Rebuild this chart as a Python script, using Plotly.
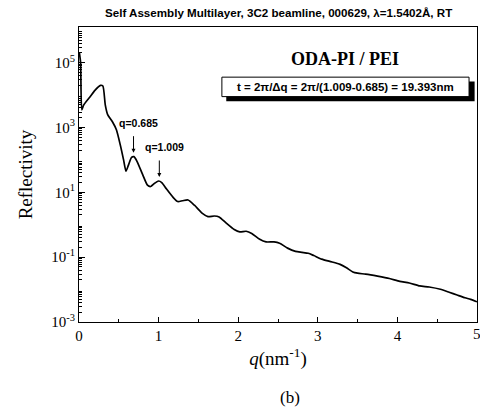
import math
import plotly.graph_objects as go

# ---- data ----
q = [0.005, 0.02, 0.035, 0.06, 0.14, 0.20, 0.27, 0.30, 0.33, 0.36, 0.42, 0.47, 0.52, 0.56,
     0.59, 0.62, 0.66, 0.69, 0.73, 0.80, 0.86, 0.90, 0.95, 1.00, 1.04, 1.10, 1.18, 1.24,
     1.30, 1.37, 1.45, 1.55, 1.62, 1.70, 1.76, 1.85, 1.95, 2.02, 2.10, 2.17, 2.27, 2.35,
     2.45, 2.52, 2.62, 2.72, 2.80, 2.88, 2.95, 3.05, 3.15, 3.28, 3.36, 3.44, 3.50, 3.60,
     3.75, 3.90, 4.03, 4.15, 4.28, 4.40, 4.54, 4.65, 4.75, 4.85, 4.92, 5.00]
reflectivity = [2.0e5, 1.0e5, 3.5e3, 5.0e3, 8.9e3, 1.4e4, 2.0e4, 1.9e4, 5.0e3, 2.5e3, 1.5e3, 8.5e2, 2.8e2, 1.0e2,
                45, 68, 120, 126, 89, 35, 16.6, 15.1, 19, 22.4, 20, 12.6, 7.1, 5.2,
                5.5, 5.8, 4.0, 2.24, 1.78, 1.86, 1.74, 1.12, 0.71, 0.60, 0.63, 0.54, 0.355, 0.295,
                0.295, 0.269, 0.19, 0.151, 0.141, 0.132, 0.112, 0.087, 0.074, 0.060, 0.047, 0.035, 0.032, 0.030,
                0.026, 0.022, 0.018, 0.016, 0.013, 0.012, 0.0102, 0.0083, 0.0068, 0.0056, 0.005, 0.0042]

x_tick_vals = [0, 1, 2, 3, 4]
x_last_tick = 5
y_tick_vals = [1e-3, 1e-1, 1e1, 1e3, 1e5]
y_tick_text = ["10<sup>-3</sup>", "10<sup>-1</sup>", "10<sup>1</sup>", "10<sup>3</sup>", "10<sup>5</sup>"]
peak_q = [0.685, 1.009]
peak_r = [126, 22.4]
peak_labels = ["q=0.685", "q=1.009"]

serif = "Liberation Serif"
sans = "Liberation Sans"

fig = go.Figure()
fig.add_trace(go.Scatter(x=q, y=reflectivity, mode="lines",
                         line=dict(color="black", width=1.7, shape="spline", smoothing=0.6),
                         showlegend=False, hoverinfo="skip"))

minor_vals = [m * 10 ** e for e in range(-3, 7) for m in range(2, 10)]

fig.update_layout(
    width=480, height=414,
    margin=dict(l=79, r=3, t=27, b=92, autoexpand=False),
    plot_bgcolor="white", paper_bgcolor="white",
    xaxis=dict(range=[0, 5], tickvals=x_tick_vals + [x_last_tick], ticktext=[str(v) for v in x_tick_vals] + [""],
               ticks="inside", ticklen=5, tickcolor="black", automargin=False,
               showline=True, linecolor="black", linewidth=1, mirror=True, showgrid=False, zeroline=False,
               tickfont=dict(family=serif, size=15, color="black"),
               minor=dict(dtick=0.5, ticks="inside", ticklen=3, tickcolor="black"),
               title=dict(text="<i>q</i>(nm<sup>-1</sup>)", font=dict(family=serif, size=19, color="black"), standoff=8)),
    yaxis=dict(type="log", range=[-3, 6.1], tickvals=y_tick_vals, ticktext=y_tick_text, ticks="inside", ticklen=6,
               automargin=False,
               tickcolor="black", showline=True, linecolor="black", linewidth=1, mirror=True, showgrid=False,
               zeroline=False, tickfont=dict(family=serif, size=15, color="black"),
               minor=dict(tickvals=minor_vals, ticks="inside", ticklen=3, tickcolor="black"),
               title=dict(text="Reflectivity", font=dict(family=serif, size=19, color="black"), standoff=13)),
)

# last x tick label, clipped by the page edge as in the original
fig.add_annotation(text=str(x_last_tick), xref="x", yref="paper", x=x_last_tick, y=0, xanchor="center",
                   yanchor="top", yshift=-2, showarrow=False, font=dict(family=serif, size=15, color="black"))

# title
fig.add_annotation(text="<b>Self Assembly Multilayer, 3C2 beamline, 000629, λ=1.5402Å, RT</b>",
                   xref="paper", yref="paper", x=0.50, y=1.02, xanchor="center", yanchor="bottom",
                   showarrow=False, font=dict(family=sans, size=11.6, color="black"))
# sample name
fig.add_annotation(text="<b>ODA-PI / PEI</b>", xref="paper", yref="paper", x=0.668, y=0.89,
                   xanchor="center", yanchor="middle",
                   showarrow=False, font=dict(family=serif, size=18, color="black"))
# shadowed box
fig.add_shape(type="rect", xref="paper", yref="paper", x0=0.37, x1=0.994, y0=0.748, y1=0.815,
              fillcolor="black", line=dict(width=0))
fig.add_shape(type="rect", xref="paper", yref="paper", x0=0.359, x1=0.980, y0=0.764, y1=0.830,
              fillcolor="white", line=dict(color="black", width=1))
fig.add_annotation(text="<b>t = 2π/Δq = 2π/(1.009-0.685) = 19.393nm</b>", xref="paper", yref="paper",
                   x=0.669, y=0.797, xanchor="center", yanchor="middle", showarrow=False,
                   font=dict(family=sans, size=11.5, color="black"))

# peak markers (annotation y on a log axis is given as log10)
for pq, pr, lab in zip(peak_q, peak_r, peak_labels):
    ly = math.log10(pr)
    fig.add_annotation(x=pq, y=ly, xref="x", yref="y", text="", showarrow=True, arrowhead=2,
                       arrowsize=0.8, arrowwidth=1, arrowcolor="black", ax=0, ay=-22, standoff=4)
    fig.add_annotation(x=pq, y=ly, xref="x", yref="y", text="<b>" + lab + "</b>", showarrow=False,
                       xanchor="center", yanchor="bottom", yshift=26, xshift=5,
                       font=dict(family=sans, size=10.5, color="black"))

# panel label
fig.add_annotation(text="(b)", xref="paper", yref="paper", x=0.53, y=-0.255, xanchor="center",
                   yanchor="middle", showarrow=False, font=dict(family=serif, size=17, color="black"))

fig.write_html("out.html", config={"displayModeBar": False},
               post_script="document.body.style.margin='0px';document.body.style.overflow='hidden';")
